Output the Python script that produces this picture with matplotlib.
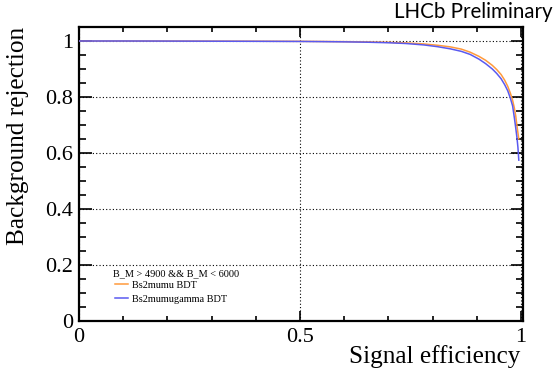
import matplotlib
matplotlib.use("Agg")
import matplotlib.pyplot as plt
from matplotlib.ticker import MultipleLocator, FuncFormatter

# Signal efficiency points
eff = [0.0, 0.1, 0.2, 0.3, 0.4, 0.5, 0.55, 0.6, 0.65, 0.7, 0.74, 0.78, 0.81, 0.84, 0.865,
       0.885, 0.905, 0.92, 0.935, 0.945, 0.955, 0.963, 0.97, 0.976, 0.981, 0.985, 0.988,
       0.991, 0.993, 0.995]
# Background rejection, Bs2mumu BDT
rej_mumu = [1.0, 1.0, 0.9998, 0.9995, 0.9992, 0.9988, 0.9983, 0.9977, 0.9968, 0.9952, 0.9932,
            0.9895, 0.985, 0.979, 0.971, 0.960, 0.945, 0.931, 0.913, 0.898, 0.880, 0.860,
            0.838, 0.813, 0.788, 0.760, 0.733, 0.695, 0.672, 0.650]
# Background rejection, Bs2mumugamma BDT
rej_mumugamma = [1.0, 1.0, 0.9997, 0.9993, 0.9989, 0.9984, 0.9978, 0.9970, 0.9958, 0.9938,
                 0.991, 0.986, 0.980, 0.972, 0.963, 0.952, 0.935, 0.919, 0.900, 0.884, 0.865,
                 0.844, 0.822, 0.795, 0.768, 0.725, 0.690, 0.652, 0.620, 0.574]

series_labels = ["Bs2mumu BDT", "Bs2mumugamma BDT"]
legend_header = "B_M > 4900 && B_M < 6000"
c_orange = "#ff9a3c"
c_blue = "#5a5af0"

serif = ["Liberation Serif", "DejaVu Serif"]

fig = plt.figure(figsize=(5.56, 3.73), dpi=100)
ax = fig.add_axes([79/556, 1-320.7/373, (523-79)/556, (320.7-27.3)/373])

l1, = ax.plot(eff, rej_mumu, color=c_orange, lw=1.1, zorder=3)
l2, = ax.plot(eff, rej_mumugamma, color=c_blue, lw=1.1, zorder=3)

ax.set_xlim(0, 1.0045)
ax.set_ylim(0, 1.049)

ax.xaxis.set_major_locator(MultipleLocator(0.5))
ax.xaxis.set_minor_locator(MultipleLocator(0.1))
ax.yaxis.set_major_locator(MultipleLocator(0.2))
ax.yaxis.set_minor_locator(MultipleLocator(0.05))

ax.grid(True, which="major", color="black", linestyle=(0, (1, 2)), lw=0.8)
ax.set_axisbelow(True)

ax.tick_params(which="both", direction="in", top=True, right=True, width=1.2)
ax.tick_params(axis="y", which="major", length=9, pad=4)
ax.tick_params(axis="y", which="minor", length=5)
ax.tick_params(axis="x", which="major", length=7, pad=5)
ax.tick_params(axis="x", which="minor", length=3.6)
ax.tick_params(axis="both", labelsize=16)
ax.xaxis.set_major_formatter(FuncFormatter(lambda v, p: f"{v:g}"))
ax.yaxis.set_major_formatter(FuncFormatter(lambda v, p: f"{v:g}"))
for lab in ax.get_xticklabels() + ax.get_yticklabels():
    lab.set_family(serif)

for s in ax.spines.values():
    s.set_linewidth(1.6)

ax.set_xlabel("Signal efficiency", family=serif, fontsize=18.2, loc="right")
ax.set_ylabel("Background rejection", family=serif, fontsize=18.2, loc="top")
ax.xaxis.set_label_coords(0.995, -0.083)
ax.yaxis.set_label_coords(-0.113, 1.0)

fig.text(553/556, 1-2/373, "LHCb Preliminary", family=["Lato", "DejaVu Sans"], fontsize=14.8,
         ha="right", va="top")

# legend
ax.text(0.0766, 0.159, legend_header, transform=ax.transAxes, family=serif, fontsize=7.4,
        ha="left", va="center")
ax.legend([l1, l2], series_labels, loc="lower left", bbox_to_anchor=(0.081, 0.057),
          frameon=False, prop={"family": serif, "size": 7.4},
          handlelength=1.27, handletextpad=0.4, labelspacing=0.5, borderpad=0,
          borderaxespad=0)

fig.savefig("out.png", dpi=100)
